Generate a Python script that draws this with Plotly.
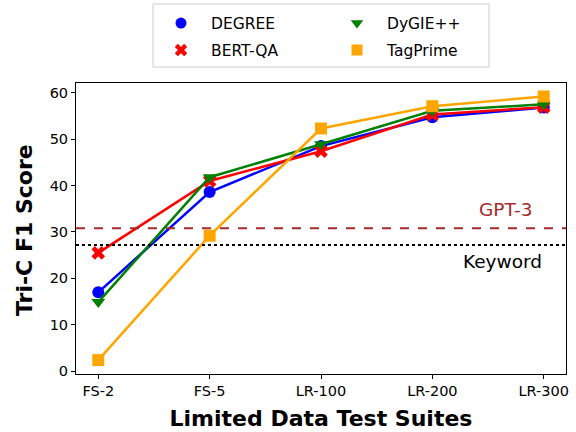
import plotly.graph_objects as go

categories = ["FS-2", "FS-5", "LR-100", "LR-200", "LR-300"]
degree = [17.0, 38.6, 48.5, 54.7, 56.8]
bert_qa = [25.5, 41.0, 47.4, 55.3, 56.9]
dygie = [14.9, 41.8, 48.9, 56.1, 57.5]
tagprime = [2.4, 29.2, 52.3, 57.1, 59.2]
gpt3 = 30.8
keyword = 27.2
y_ticks = [0, 10, 20, 30, 40, 50, 60]

FONT = "DejaVu Sans"
xs = list(range(len(categories)))

W, H = 576, 432
L, R, T, B = 76, 10, 83, 58
PW, PH = W - L - R, H - T - B

def px_x(p):
    return (p - L) / PW

def px_y(p):
    return (H - B - p) / PH

series = [
    ("DEGREE", degree, "blue", "circle", "legend", 179, 22),
    ("BERT-QA", bert_qa, "red", "x", "legend2", 179, 49),
    ("DyGIE++", dygie, "green", "triangle-down", "legend3", 355, 22),
    ("TagPrime", tagprime, "orange", "square", "legend4", 355, 49),
]

fig = go.Figure()
for name, vals, color, sym, leg, lx, ly in series:
    fig.add_trace(go.Scatter(
        x=xs, y=vals, mode="lines+markers", name=name, showlegend=False,
        line=dict(color=color, width=2.5),
        marker=dict(color=color, symbol=sym, size=12, line=dict(width=0)),
    ))
for name, vals, color, sym, leg, lx, ly in series:
    fig.add_trace(go.Scatter(
        x=[None], y=[None], mode="markers", name=name, legend=leg,
        marker=dict(color=color, symbol=sym, size=11, line=dict(width=0)),
    ))

fig.add_hline(y=gpt3, line=dict(color="#A52A2A", width=2.2, dash="dash"))
fig.add_hline(y=keyword, line=dict(color="black", width=2.2, dash="dot"))

fig.add_annotation(x=3.66, y=34.8, text="GPT-3", showarrow=False,
                   font=dict(family=FONT, size=18.5, color="#A52A2A"))
fig.add_annotation(x=3.63, y=23.6, text="Keyword", showarrow=False,
                   font=dict(family=FONT, size=18.5, color="black"))

# y-axis title
fig.add_annotation(xref="paper", yref="paper", x=px_x(24), y=px_y(230),
                   text="<b>Tri-C F1 Score</b>", textangle=-90, showarrow=False,
                   xanchor="center", yanchor="middle",
                   font=dict(family=FONT, size=22, color="black"))

# legend frame
fig.add_shape(type="rect", xref="paper", yref="paper",
              x0=px_x(153), x1=px_x(489), y0=px_y(67), y1=px_y(4),
              line=dict(color="#cccccc", width=1), fillcolor="rgba(255,255,255,0.8)",
              layer="above")

legfont = dict(family=FONT, size=15.5, color="black")
legends = {}
for name, vals, color, sym, leg, lx, ly in series:
    legends[leg] = dict(xref="container", yref="container",
                        x=(lx - 28) / W, y=1 - (ly - 15.5) / H,
                        xanchor="left", yanchor="top",
                        font=legfont, bgcolor="rgba(0,0,0,0)", itemwidth=50)

fig.update_layout(
    width=W, height=H,
    margin=dict(l=L, r=R, t=T, b=B, autoexpand=False),
    paper_bgcolor="white", plot_bgcolor="white",
    font=dict(family=FONT, size=14.5, color="black"),
    **legends,
    xaxis=dict(
        range=[-0.2, 4.2], tickmode="array", tickvals=xs, ticktext=categories,
        showgrid=False, zeroline=False, showline=True, linecolor="black", linewidth=1,
        mirror=True, ticks="outside", ticklen=4, tickcolor="black",
        tickfont=dict(family=FONT, size=14.5),
        title=dict(text="<b>Limited Data Test Suites</b>", font=dict(family=FONT, size=22), standoff=12),
    ),
    yaxis=dict(
        range=[-0.6, 62.1], tickmode="array", tickvals=y_ticks,
        showgrid=False, zeroline=False, showline=True, linecolor="black", linewidth=1,
        mirror=True, ticks="outside", ticklen=4, tickcolor="black",
        tickfont=dict(family=FONT, size=14.5),
    ),
)

fig.write_html("out.html")
